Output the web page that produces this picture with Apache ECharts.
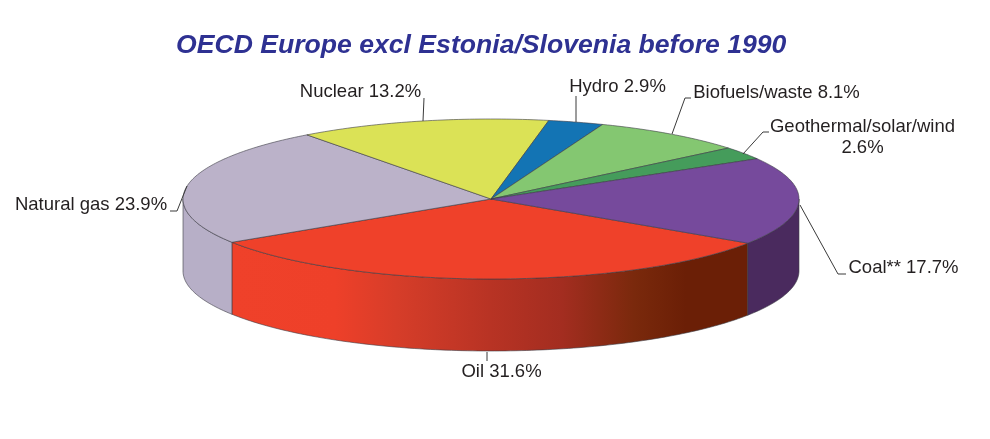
<!DOCTYPE html>
<html>
<head>
<meta charset="utf-8">
<style>html,body{margin:0;padding:0;background:#fff}#c{width:990px;height:439px}</style>
<script src="https://cdn.jsdelivr.net/npm/echarts@6/dist/echarts.min.js"></script>
</head>
<body>
<div id="c"></div>
<script>
// Data, clockwise from the oil/coal edge
const categories = ['Oil', 'Natural gas', 'Nuclear', 'Hydro', 'Biofuels/waste', 'Geothermal/solar/wind', 'Coal**'];
const shares = [31.6, 23.9, 13.2, 2.9, 8.1, 2.6, 17.7];

// Styles
const topColors = ['#EF412A', '#BBB2C9', '#DBE256', '#1374B4', '#84C771', '#459C5B', '#764A9C'];
const sideColors = ['#EF412A', '#B7AFC7', '#DBE256', '#1374B4', '#84C771', '#459C5B', '#4A2A5E'];
const oilSideStops = [
  {offset: 0, color: '#EF412A'}, {offset: 0.2, color: '#EE4029'}, {offset: 0.32, color: '#D63D29'},
  {offset: 0.5, color: '#B83324'}, {offset: 0.64, color: '#A32D20'}, {offset: 0.78, color: '#7A290C'},
  {offset: 0.88, color: '#6B1F06'}, {offset: 1, color: '#6B1F06'}
];
const edge = '#3d3d45';
const textColor = '#231F20';
const START_DEG = 33.5, DEPTH = 0.9; // depth in units of the vertical radius

// Layout of label callouts (pixels)
const callouts = [
  {line: [[487, 352], [487, 361]], x: 501.5, y: 372},
  {line: [[187, 186], [177, 211], [170, 211]], x: 91, y: 205},
  {line: [[423, 121], [424, 98]], x: 360.5, y: 92},
  {line: [[576, 122], [576, 96]], x: 617.5, y: 87},
  {line: [[672, 134], [685, 98], [691, 98]], x: 776.5, y: 93},
  {line: [[743, 154], [763, 132], [769, 132]], x: 862.5, y: 116.5, second: true},
  {line: [[800, 205], [838, 274], [846, 274]], x: 903.5, y: 268}
];

const total = shares.reduce((a, b) => a + b, 0);
let acc = 0;
const sliceData = shares.map((v, i) => {
  const from = START_DEG + acc / total * 360;
  acc += v;
  return {value: [from, START_DEG + acc / total * 360, i]};
});

function arcPoints(api, a0, a1, off) {
  const pts = [];
  const n = Math.max(2, Math.ceil(a1 - a0));
  for (let k = 0; k <= n; k++) {
    const t = (a0 + (a1 - a0) * k / n) * Math.PI / 180;
    pts.push(api.coord([Math.cos(t), Math.sin(t) + off]));
  }
  return pts;
}

function renderSlice(params, api) {
  const a0 = api.value(0), a1 = api.value(1), i = api.value(2);
  const children = [];
  // the visible front wall spans 0..180 degrees (and 360..540 after wrapping)
  [[0, 180], [360, 540]].forEach(([lo, hi]) => {
    const s = Math.max(a0, lo), e = Math.min(a1, hi);
    if (e > s) {
      const upper = arcPoints(api, s, e, 0);
      const lower = arcPoints(api, s, e, DEPTH).reverse();
      let fill = sideColors[i];
      if (i === 0) {
        fill = {type: 'linear', global: true, x: upper[upper.length - 1][0], y: 0, x2: upper[0][0], y2: 0,
                colorStops: oilSideStops};
      }
      children.push({type: 'polygon', shape: {points: upper.concat(lower)},
        style: {fill: fill, stroke: edge, lineWidth: 0.6}});
    }
  });
  const apex = api.coord([0, 0]);
  children.push({type: 'polygon', shape: {points: [apex].concat(arcPoints(api, a0, a1, 0))},
    style: {fill: topColors[i], stroke: edge, lineWidth: 0.6}});
  return {type: 'group', children};
}

function renderCallout(params, api) {
  const i = api.value(0), c = callouts[i];
  const share = shares[i] + '%';
  const text = c.second ? categories[i] + '\n' + share : categories[i] + ' ' + share;
  return {type: 'group', children: [
    {type: 'polyline', shape: {points: c.line}, style: {fill: 'none', stroke: '#3a3a3a', lineWidth: 1}},
    {type: 'text', x: c.x, y: c.y, style: {text, font: '18.5px "Liberation Sans"', fill: textColor,
      align: 'center', verticalAlign: c.second ? 'top' : 'middle', lineHeight: 21}}
  ]};
}

const chart = echarts.init(document.getElementById('c'), null, {renderer: 'canvas'});
chart.setOption({
  animation: false,
  backgroundColor: '#fff',
  title: {text: 'OECD Europe excl Estonia/Slovenia before 1990', left: 171, top: 27,
    textStyle: {color: '#2E3192', fontFamily: 'Liberation Sans', fontSize: 26.6, fontWeight: 'bold', fontStyle: 'italic'}},
  grid: {left: 183, width: 616, top: 119, height: 160},
  xAxis: {type: 'value', min: -1, max: 1, show: false},
  yAxis: {type: 'value', min: -1, max: 1, inverse: true, show: false},
  series: [
    {type: 'custom', coordinateSystem: 'cartesian2d', clip: false, silent: true,
     renderItem: renderSlice, data: sliceData, encode: {x: 0, y: 1}},
    {type: 'custom', coordinateSystem: 'cartesian2d', clip: false, silent: true, z: 5,
     renderItem: renderCallout, data: categories.map((n, i) => [i])}
  ]
});
</script>
</body>
</html>
